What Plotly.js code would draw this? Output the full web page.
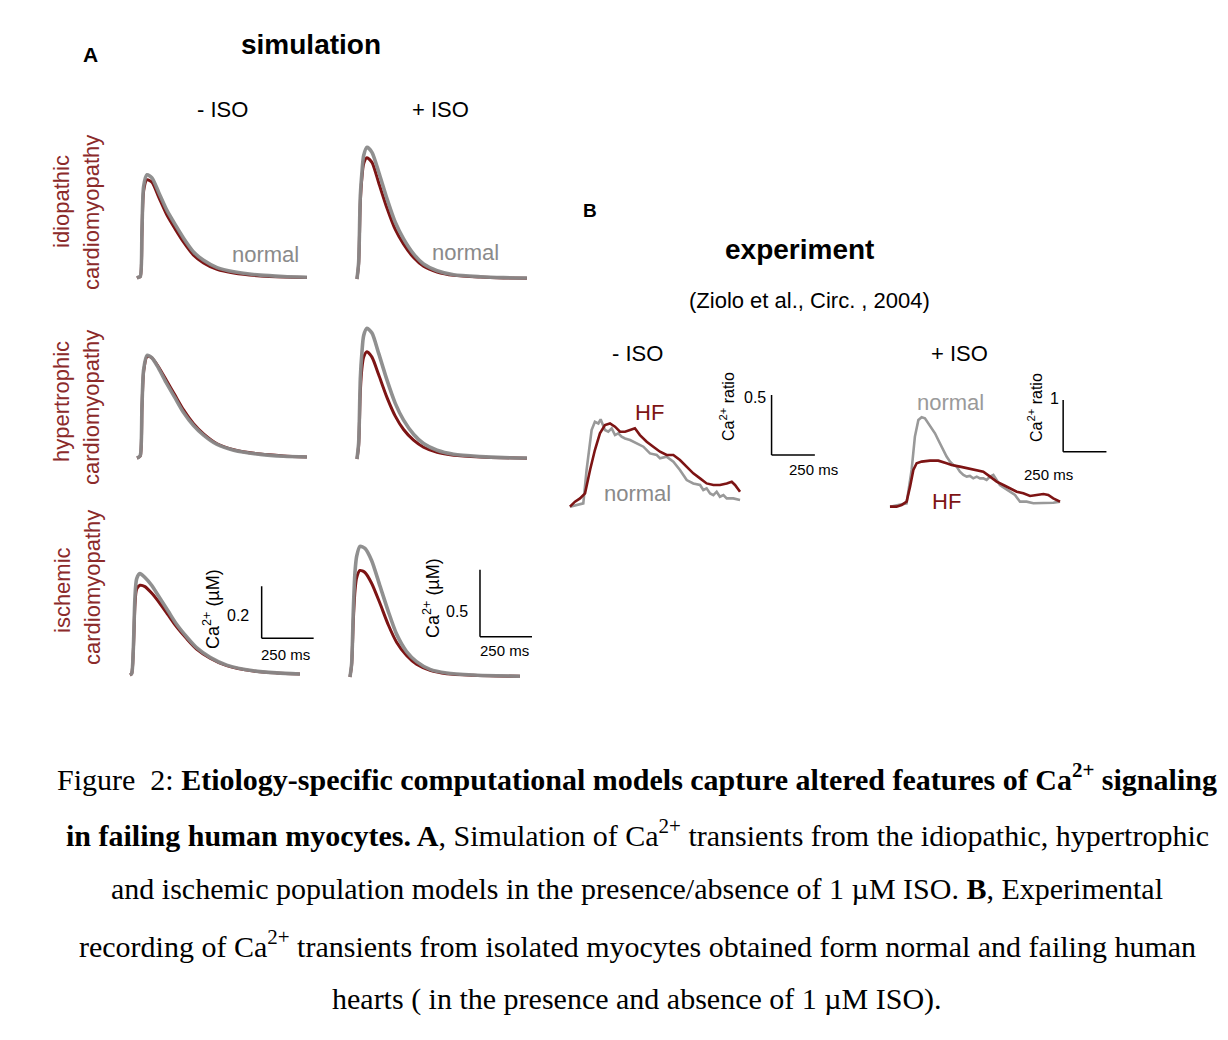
<!DOCTYPE html>
<html>
<head>
<meta charset="utf-8">
<script src="https://cdn.plot.ly/plotly-3.0.1.min.js"></script>
<style>html,body{margin:0;padding:0;background:#fff;}#chart{width:1228px;height:1040px;}</style>
</head>
<body>
<div id="chart"></div>
<script>
// ---------- Simulation (A): time in ms, Ca2+ in µM ----------
const simTime = [0, 8, 16, 24, 32, 48, 72, 104, 144, 184, 224, 272, 320, 385, 465, 593, 705, 817];

const idioMinusNormal = [0.100,0.103,0.106,0.286,0.453,0.497,0.485,0.430,0.360,0.305,0.253,0.200,0.168,0.140,0.124,0.111,0.106,0.103];
const idioMinusHF     = [0.100,0.103,0.105,0.270,0.435,0.478,0.468,0.412,0.342,0.288,0.238,0.188,0.158,0.133,0.119,0.108,0.104,0.102];
const idioPlusNormal  = [0.100,0.224,0.720,0.900,1.020,1.083,1.045,0.900,0.700,0.523,0.399,0.287,0.212,0.162,0.132,0.117,0.110,0.107];
const idioPlusHF      = [0.100,0.210,0.670,0.860,0.960,1.005,0.970,0.820,0.630,0.470,0.360,0.260,0.195,0.152,0.127,0.114,0.108,0.105];

const hyperMinusNormal = [0.100,0.103,0.110,0.300,0.440,0.495,0.485,0.445,0.385,0.330,0.275,0.225,0.188,0.152,0.130,0.114,0.107,0.104];
const hyperMinusHF     = [0.100,0.103,0.108,0.290,0.432,0.490,0.485,0.450,0.395,0.340,0.285,0.232,0.193,0.155,0.132,0.115,0.108,0.104];
const hyperPlusNormal  = [0.100,0.220,0.700,0.900,1.020,1.075,1.040,0.890,0.690,0.515,0.390,0.285,0.215,0.165,0.135,0.118,0.110,0.107];
const hyperPlusHF      = [0.100,0.200,0.600,0.780,0.860,0.900,0.860,0.730,0.560,0.420,0.320,0.240,0.188,0.150,0.128,0.115,0.109,0.106];

const ischMinusNormal = [0.100,0.105,0.200,0.400,0.470,0.490,0.475,0.445,0.395,0.345,0.295,0.247,0.205,0.168,0.138,0.116,0.108,0.104];
const ischMinusHF     = [0.100,0.105,0.190,0.370,0.430,0.445,0.440,0.415,0.375,0.330,0.285,0.240,0.200,0.165,0.136,0.115,0.108,0.104];
const ischPlusNormal  = [0.100,0.200,0.600,0.880,1.000,1.075,1.060,0.970,0.780,0.590,0.420,0.290,0.215,0.157,0.130,0.115,0.109,0.106];
const ischPlusHF      = [0.100,0.190,0.520,0.740,0.840,0.895,0.880,0.800,0.650,0.490,0.360,0.260,0.195,0.150,0.125,0.113,0.108,0.105];

// ---------- Experiment (B): time in ms, Ca2+ ratio change ----------
const expMinusNormalT = [0,38,77,96,125,144,164,177,189,202,221,241,260,279,298,318,347,385,424,462,501,520,558,597,635,674,712,751,770,789,809,828,847,866,886,905,943,982];
const expMinusNormalR = [0,0.014,0.028,0.306,0.639,0.708,0.694,0.728,0.681,0.639,0.625,0.653,0.597,0.611,0.583,0.569,0.556,0.528,0.500,0.444,0.431,0.403,0.417,0.375,0.306,0.222,0.194,0.181,0.139,0.153,0.111,0.097,0.125,0.083,0.097,0.069,0.069,0.056];
const expMinusHFT = [0,29,58,87,116,144,173,202,231,260,289,318,347,375,404,443,481,520,558,597,635,674,712,751,789,828,866,905,934,953,982];
const expMinusHFR = [0,0.042,0.069,0.111,0.306,0.472,0.611,0.681,0.694,0.667,0.625,0.625,0.639,0.653,0.597,0.542,0.500,0.458,0.431,0.431,0.389,0.333,0.278,0.236,0.194,0.181,0.181,0.194,0.208,0.181,0.125];

const expPlusNormalT = [0,58,96,125,144,164,183,202,221,241,260,279,298,327,347,366,385,404,424,443,462,481,501,520,539,558,578,597,616,635,664,693,722,751,789,828,866,905,943,982];
const expPlusNormalR = [0,0.032,0.065,0.710,1.355,1.677,1.729,1.710,1.613,1.516,1.419,1.290,1.161,0.968,0.871,0.806,0.774,0.677,0.613,0.581,0.594,0.548,0.581,0.548,0.548,0.516,0.581,0.613,0.516,0.419,0.355,0.290,0.226,0.097,0.097,0.065,0.065,0.077,0.077,0.097];
const expPlusHFT = [0,38,67,96,116,135,154,183,231,279,327,356,404,452,501,539,578,616,655,693,732,770,809,847,886,914,943,982];
const expPlusHFR = [0,0,0.032,0.097,0.387,0.710,0.839,0.871,0.890,0.890,0.839,0.806,0.774,0.742,0.710,0.677,0.581,0.484,0.419,0.355,0.290,0.258,0.206,0.226,0.245,0.226,0.161,0.097];

// scale bar sizes
const simBarTime = 250, simBarCaMinus = 0.2, simBarCaPlus = 0.5;
const expBarTime = 250, expBarMinus = 0.5, expBarPlus = 1;

// ---------- helpers ----------
const W = 1228, H = 1040;
const px = x => x / W;
const py = y => 1 - y / H;
const dx = (a, b) => [px(a), px(b)];
const dy = (top, bottom) => [py(bottom), py(top)];

const GREY = '#8a8a8a', RED = '#7d1414', LABRED = '#8b2a2a';
const SANS = 'Liberation Sans, Arial, Helvetica, sans-serif';
const SERIF = 'Liberation Serif, Times New Roman, serif';

const traces = [];
function simPanel(ax, hf, normal) {
  traces.push({x: simTime, y: hf, xaxis: 'x' + ax, yaxis: 'y' + ax, mode: 'lines',
    line: {color: RED, width: 3, shape: 'spline', smoothing: 0.7}, hoverinfo: 'skip'});
  traces.push({x: simTime, y: normal, xaxis: 'x' + ax, yaxis: 'y' + ax, mode: 'lines',
    line: {color: GREY, width: 3.6, shape: 'spline', smoothing: 0.7}, opacity: 0.95, hoverinfo: 'skip'});
}
simPanel('', idioMinusHF, idioMinusNormal);
simPanel('2', idioPlusHF, idioPlusNormal);
simPanel('3', hyperMinusHF, hyperMinusNormal);
simPanel('4', hyperPlusHF, hyperPlusNormal);
simPanel('5', ischMinusHF, ischMinusNormal);
simPanel('6', ischPlusHF, ischPlusNormal);

function expPanel(ax, tn, rn, th, rh) {
  traces.push({x: tn, y: rn, xaxis: 'x' + ax, yaxis: 'y' + ax, mode: 'lines',
    line: {color: '#999999', width: 2.6}, hoverinfo: 'skip'});
  traces.push({x: th, y: rh, xaxis: 'x' + ax, yaxis: 'y' + ax, mode: 'lines',
    line: {color: RED, width: 2.6}, hoverinfo: 'skip'});
}
expPanel('7', expMinusNormalT, expMinusNormalR, expMinusHFT, expMinusHFR);
expPanel('8', expPlusNormalT, expPlusNormalR, expPlusHFT, expPlusHFR);

function hidden(domain, range) {
  return {domain: domain, range: range, visible: false, fixedrange: true, showgrid: false, zeroline: false};
}
const simX = [-10, 900];
const layout = {
  width: W, height: H,
  margin: {l: 0, r: 0, t: 0, b: 0},
  paper_bgcolor: '#ffffff', plot_bgcolor: 'rgba(0,0,0,0)',
  showlegend: false,
  xaxis:  hidden(dx(134.9, 324.2), simX), yaxis:  hidden(dy(148, 304), [0, 0.6]),
  xaxis2: hidden(dx(354.9, 544.2), simX), yaxis2: hidden(dy(131.6, 292.4), [0, 1.2]),
  xaxis3: hidden(dx(134.9, 324.2), simX), yaxis3: hidden(dy(328, 484), [0, 0.6]),
  xaxis4: hidden(dx(354.9, 544.2), simX), yaxis4: hidden(dy(311.6, 472.4), [0, 1.2]),
  xaxis5: hidden(dx(127.9, 317.2), simX), yaxis5: hidden(dy(545, 701), [0, 0.6]),
  xaxis6: hidden(dx(347.9, 537.2), simX), yaxis6: hidden(dy(529.6, 690.4), [0, 1.2]),
  xaxis7: hidden(dx(566.5, 821.1), [-20, 1450]), yaxis7: hidden(dy(386.7, 518.7), [-0.1, 1.0]),
  xaxis8: hidden(dx(886.5, 1115.1), [-20, 1300]), yaxis8: hidden(dy(392.9, 519.6), [-0.25, 2.2]),
  shapes: [],
  annotations: []
};

function scaleBar(ax, x0, y0, dt, dv) {
  const ref = {xref: 'x' + ax, yref: 'y' + ax, line: {color: '#000', width: 1.5}};
  layout.shapes.push(Object.assign({type: 'line', x0: x0, x1: x0, y0: y0, y1: y0 + dv}, ref));
  layout.shapes.push(Object.assign({type: 'line', x0: x0, x1: x0 + dt, y0: y0, y1: y0}, ref));
}
scaleBar('5', 633, 0.241, simBarTime, simBarCaMinus);
scaleBar('6', 625, 0.401, simBarTime, simBarCaPlus);
scaleBar('7', 1164, 0.431, expBarTime, expBarMinus);
scaleBar('8', 1000, 1.063, expBarTime, expBarPlus);

function txt(text, x, y, size, color, opts) {
  layout.annotations.push(Object.assign({
    text: text, x: px(x), y: py(y), xref: 'paper', yref: 'paper',
    showarrow: false, xanchor: 'center', yanchor: 'middle',
    font: {family: SANS, size: size, color: color || '#000'}
  }, opts || {}));
}
// Panel A
txt('<b>A</b>', 90, 54, 21);
txt('<b>simulation</b>', 311, 45, 28);
txt('- ISO', 222, 110, 22);
txt('+ ISO', 440, 110, 22);
txt('normal', 265, 254, 22, GREY);
txt('normal', 465, 252, 22, GREY);
txt('idiopathic', 62, 202, 22, LABRED, {textangle: -90});
txt('cardiomyopathy', 92, 213, 22, LABRED, {textangle: -90});
txt('hypertrophic', 62, 402, 22, LABRED, {textangle: -90});
txt('cardiomyopathy', 92, 408, 22, LABRED, {textangle: -90});
txt('ischemic', 62, 590, 22, LABRED, {textangle: -90});
txt('cardiomyopathy', 92, 588, 22, LABRED, {textangle: -90});
txt('Ca<sup>2+</sup> (µM)', 211, 609, 18, '#000', {textangle: -90});
txt('0.2', 238, 615, 16);
txt('250 ms', 285, 654, 15);
txt('Ca<sup>2+</sup> (µM)', 431, 598, 18, '#000', {textangle: -90});
txt('0.5', 457, 611, 16);
txt('250 ms', 504, 650, 15);
// Panel B
txt('<b>B</b>', 590, 211, 19);
txt('<b>experiment</b>', 799, 249, 28);
txt('(Ziolo et al., Circ. , 2004)', 809, 300, 22);
txt('- ISO', 637, 353, 22);
txt('+ ISO', 959, 353, 22);
txt('HF', 649, 413, 22, RED);
txt('normal', 637, 493, 22, GREY);
txt('normal', 950, 403, 22, '#9a9a9a');
txt('HF', 946, 501, 22, RED);
txt('Ca<sup>2+</sup> ratio', 727, 407, 16, '#000', {textangle: -90});
txt('0.5', 755, 397, 16);
txt('250 ms', 813, 470, 15);
txt('Ca<sup>2+</sup> ratio', 1035, 408, 16, '#000', {textangle: -90});
txt('1', 1054, 399, 16);
txt('250 ms', 1048, 475, 15);
// Caption
const capSize = 30;
function cap(text, y) { txt(text, 637, y, capSize, '#000', {font: {family: SERIF, size: capSize, color: '#000'}}); }
cap('Figure  2: <b>Etiology-specific computational models capture altered features of Ca<sup>2+</sup> signaling</b>', 777);
cap('<b>in failing human myocytes. A</b>, Simulation of Ca<sup>2+</sup> transients from the idiopathic, hypertrophic', 833);
cap('and ischemic population models in the presence/absence of 1 µM ISO. <b>B</b>, Experimental', 888);
cap('recording of Ca<sup>2+</sup> transients from isolated myocytes obtained form normal and failing human', 944);
cap('hearts ( in the presence and absence of 1 µM ISO).', 999);

Plotly.newPlot('chart', traces, layout, {staticPlot: true, displayModeBar: false});
</script>
</body>
</html>
